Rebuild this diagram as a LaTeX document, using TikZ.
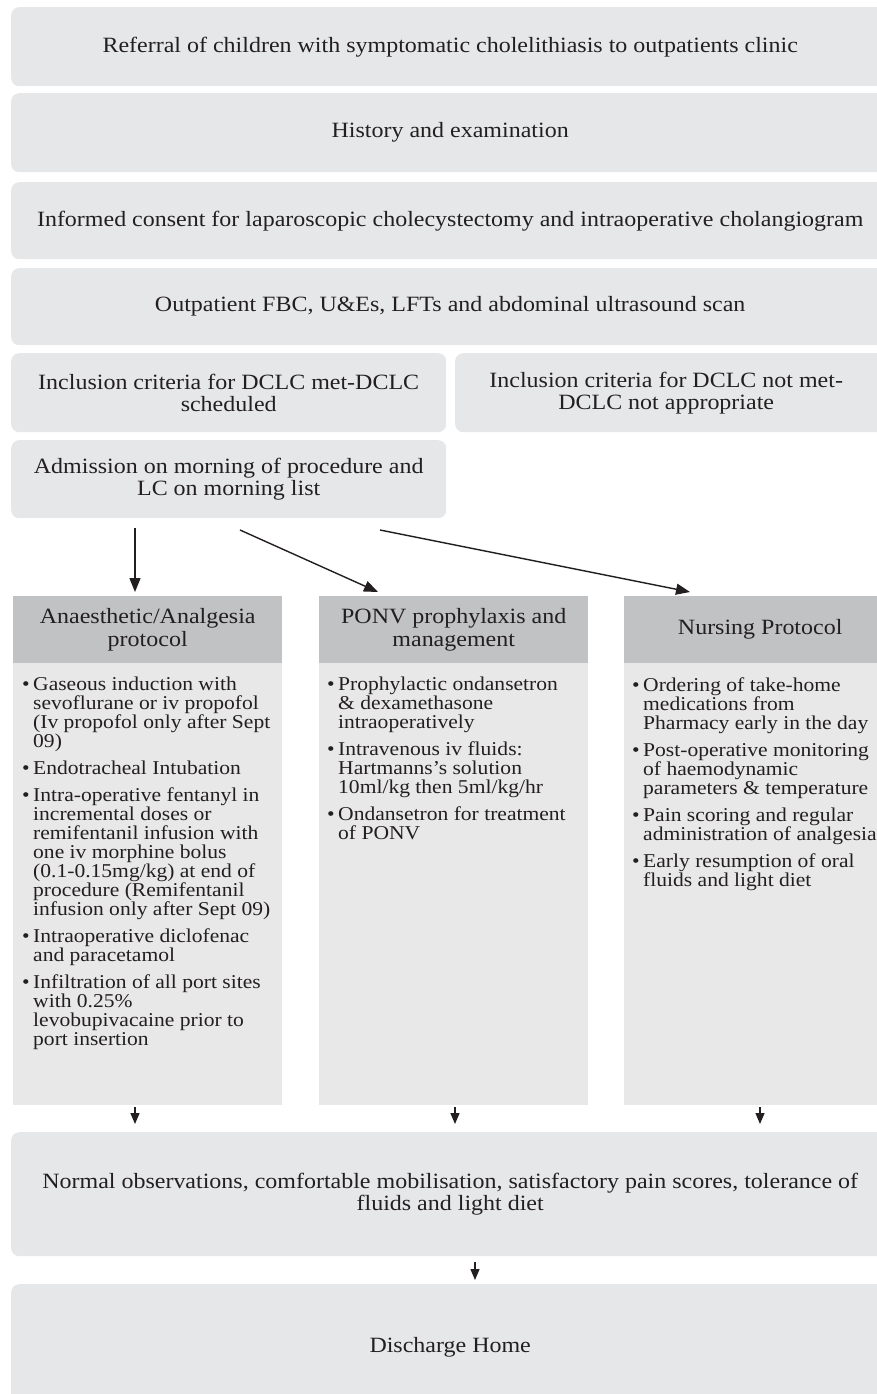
\documentclass[tikz,border=0pt]{standalone}
\usepackage{fontspec}
\setmainfont{Liberation Serif}[FakeStretch=1.1]
\usetikzlibrary{arrows.meta, calc}

\definecolor{boxgray}{RGB}{230,231,232}
\definecolor{headgray}{RGB}{193,194,196}
\definecolor{bodygray}{RGB}{232,232,232}
\definecolor{ink}{RGB}{35,31,32}

\newcommand{\bul}{\makebox[11pt][l]{•}}
\newcommand{\hang}{\hspace*{11pt}}

\tikzset{
  stage/.style={fill=boxgray, rounded corners=8pt, inner sep=0pt, align=center,
    text=ink, anchor=north west, font=\fontsize{21.8}{22}\selectfont},
  colhead/.style={fill=headgray, inner sep=0pt, align=center, text=ink,
    anchor=north west, minimum width=269pt, minimum height=67pt,
    font=\fontsize{21.8}{23}\selectfont},
  colbody/.style={fill=bodygray, inner sep=0pt, anchor=north west,
    minimum width=269pt, minimum height=442pt},
  items/.style={align=left, inner sep=0pt, anchor=north west, text=ink,
    font=\fontsize{19.6}{19}\selectfont},
  flow/.style={-{Triangle[length=14pt,width=11pt]}, line width=1.4pt, draw=ink},
  drop/.style={-{Triangle[length=11pt,width=9pt]}, line width=1.3pt, draw=ink},
}

\begin{document}
\begin{tikzpicture}[x=1pt, y=-1pt]
    \useasboundingbox (0,0) rectangle (877,1394);
    \clip (0,0) rectangle (877,1394);

    % pre-operative pathway
    \node[stage, minimum width=878pt, minimum height=79pt] (referral) at (11,7)
        {Referral of children with symptomatic cholelithiasis to outpatients clinic};
    \node[stage, minimum width=878pt, minimum height=79pt] (history) at (11,93)
        {History and examination};
    \node[stage, minimum width=878pt, minimum height=77pt] (consent) at (11,182)
        {Informed consent for laparoscopic cholecystectomy and intraoperative cholangiogram};
    \node[stage, minimum width=878pt, minimum height=77pt] (bloods) at (11,268)
        {Outpatient FBC, U\&Es, LFTs and abdominal ultrasound scan};
    \node[stage, minimum width=435pt, minimum height=79pt] (met) at (11,353)
        {Inclusion criteria for DCLC met-DCLC\\scheduled};
    \node[stage, minimum width=434pt, minimum height=79pt] (notmet) at (455,353)
        {\hspace*{-12pt}Inclusion criteria for DCLC not met-\\\hspace*{-12pt}DCLC not appropriate};
    \node[stage, minimum width=435pt, minimum height=78pt] (admit) at (11,440)
        {Admission on morning of procedure and\\LC on morning list};

    % protocols
    \node[colhead] (hAnaes) at (13,596) {Anaesthetic/Analgesia\\protocol};
    \node[colhead] (hPonv) at (319,596) {PONV prophylaxis and\\management};
    \node[colhead, minimum width=272pt] (hNurse) at (624,596) {Nursing Protocol};
    \node[colbody] (bAnaes) at (13,663) {};
    \node[colbody] (bPonv) at (319,663) {};
    \node[colbody, minimum width=272pt] (bNurse) at (624,663) {};

    \node[items] (tAnaes) at (22,677) {%
        \bul Gaseous induction with\\
        \hang sevoflurane or iv propofol\\
        \hang (Iv propofol only after Sept\\
        \hang 09)\\[8pt]
        \bul Endotracheal Intubation\\[8pt]
        \bul Intra-operative fentanyl in\\
        \hang incremental doses or\\
        \hang remifentanil infusion with\\
        \hang one iv morphine bolus\\
        \hang (0.1-0.15mg/kg) at end of\\
        \hang procedure (Remifentanil\\
        \hang infusion only after Sept 09)\\[8pt]
        \bul Intraoperative diclofenac\\
        \hang and paracetamol\\[8pt]
        \bul Infiltration of all port sites\\
        \hang with 0.25\%\\
        \hang levobupivacaine prior to\\
        \hang port insertion};
    \node[items] (tPonv) at (327,677) {%
        \bul Prophylactic ondansetron\\
        \hang \& dexamethasone\\
        \hang intraoperatively\\[8pt]
        \bul Intravenous iv fluids:\\
        \hang Hartmanns’s solution\\
        \hang 10ml/kg then 5ml/kg/hr\\[8pt]
        \bul Ondansetron for treatment\\
        \hang of PONV};
    \node[items] (tNurse) at (632,677) {%
        \bul Ordering of take-home\\
        \hang medications from\\
        \hang Pharmacy early in the day\\[8pt]
        \bul Post-operative monitoring\\
        \hang of haemodynamic\\
        \hang parameters \& temperature\\[8pt]
        \bul Pain scoring and regular\\
        \hang administration of analgesia\\[8pt]
        \bul Early resumption of oral\\
        \hang fluids and light diet};

    % outcome
    \node[stage, minimum width=878pt, minimum height=124pt] (normal) at (11,1132)
        {Normal observations, comfortable mobilisation, satisfactory pain scores, tolerance of\\fluids and light diet};
    \node[stage, minimum width=878pt, minimum height=126pt] (home) at (11,1284)
        {Discharge Home};

    % arrows
    \coordinate (fromA) at (135,528);
    \coordinate (fromB) at (240,530);
    \coordinate (fromC) at (380,530);
    \coordinate (toB) at (378,592);
    \coordinate (toC) at (690,592);
    \draw[flow, shorten >=4pt] (fromA) -- (fromA |- hAnaes.north);
    \draw[flow] (fromB) -- (toB);
    \draw[flow] (fromC) -- (toC);

    \coordinate (dA) at (135,1107);
    \coordinate (dB) at (455,1107);
    \coordinate (dC) at (760,1107);
    \coordinate (dH) at (475,1262);
    \draw[drop, shorten >=8pt] (dA) -- (dA |- normal.north);
    \draw[drop, shorten >=8pt] (dB) -- (dB |- normal.north);
    \draw[drop, shorten >=8pt] (dC) -- (dC |- normal.north);
    \draw[drop, shorten >=4pt] (dH) -- (dH |- home.north);
\end{tikzpicture}
\end{document}
